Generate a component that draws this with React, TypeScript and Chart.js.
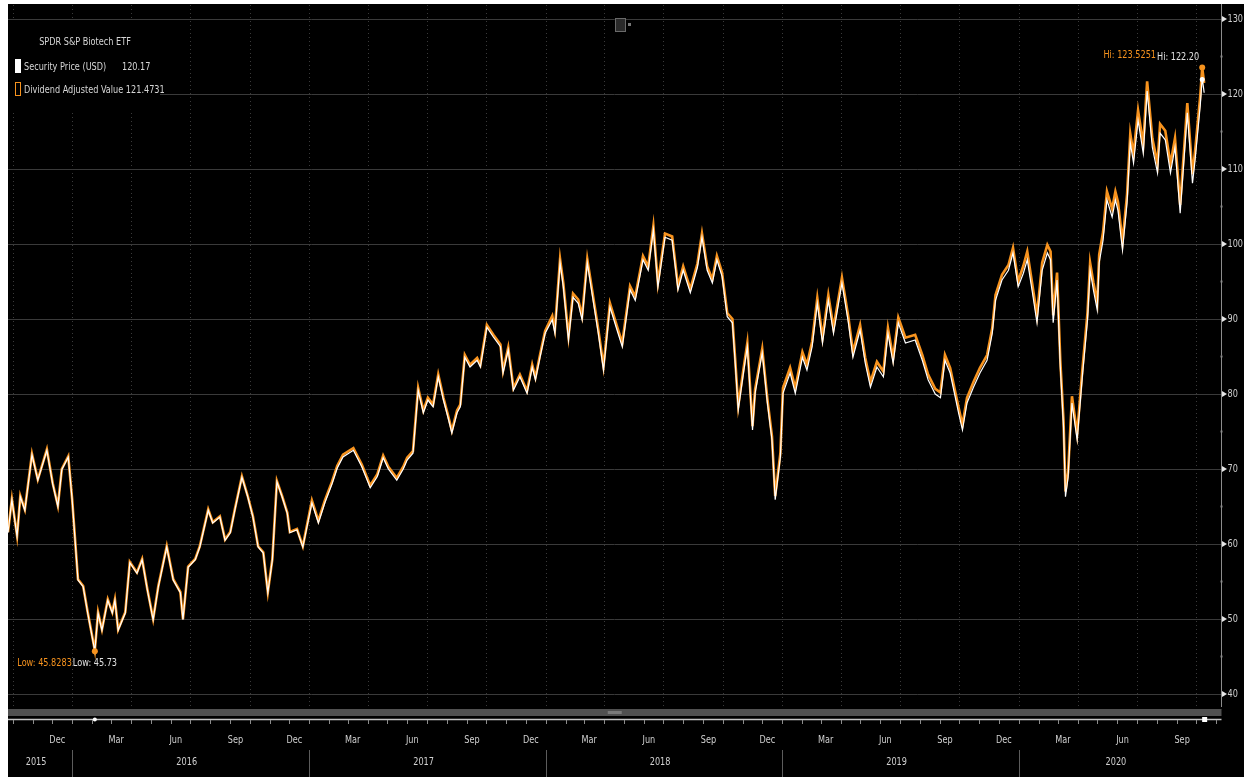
import React, { useEffect, useRef } from "react";
import { Chart, registerables } from "chart.js";

Chart.register(...registerables);

// calendar days since 2015-09-24
const BASE_UTC = Date.UTC(2015, 8, 24);
const X_MAX = 1872;

const dayIndex = [
  0, 6, 14, 19, 26, 37, 46, 60, 69, 77, 83, 93, 99, 108, 116, 123, 134, 139, 145, 154,
  161, 165, 170, 181, 188, 199, 207, 215, 224, 232, 245, 255, 266, 270, 278, 289, 296, 309, 316, 327,
  335, 343, 350, 361, 370, 378, 386, 394, 401, 408, 415, 423, 431, 435, 446, 455,
  469, 479, 489, 500, 508, 517, 533, 546, 559, 570, 579, 587, 600, 610, 616, 625, 633, 641, 648, 656,
  664, 672, 679, 685, 693, 698, 705, 713, 724, 729, 739, 749, 760, 764, 772, 780, 790, 801, 809, 814,
  821, 829,
  840, 844, 852, 857, 865, 872, 880, 886, 894, 903, 911, 919, 929, 940, 948, 960, 968, 980, 988, 996,
  1003, 1014, 1025, 1034, 1042, 1053, 1064, 1071, 1079, 1087, 1094, 1102, 1110, 1118, 1122, 1127, 1135, 1141, 1149, 1153,
  1164, 1172, 1179, 1184, 1192,
  1196, 1207, 1215, 1226, 1233, 1241, 1249, 1257, 1266, 1274, 1287, 1297, 1304, 1315, 1323, 1331, 1341, 1351, 1358, 1366,
  1374, 1385, 1400, 1411, 1420, 1431, 1439, 1446, 1454, 1467, 1473, 1480, 1490, 1500, 1511, 1519, 1524, 1534, 1544, 1551,
  1559,
  1567, 1573, 1581, 1588, 1596, 1604, 1609, 1613, 1619, 1624, 1629, 1632, 1636, 1642, 1650, 1658, 1666, 1670, 1675, 1681,
  1684, 1690, 1696, 1704, 1709, 1713, 1720, 1727, 1732, 1737, 1744, 1752, 1758, 1766, 1774, 1778, 1786, 1794, 1801, 1809,
  1820, 1828, 1832, 1840, 1843, 1846,
];

const securityPrice = [
  61.5, 65.9, 61.0, 66.3, 64.5, 71.9, 68.5, 72.5, 68.0, 65.0, 69.9, 71.6, 65.9, 55.2, 54.3, 50.8, 45.73, 50.8, 48.5, 52.5,
  50.8, 52.5, 48.5, 50.8, 57.5, 56.1, 57.9, 53.9, 49.9, 54.3, 59.6, 55.2, 53.5, 49.9, 56.9, 57.9, 59.6, 64.5, 62.8, 63.6,
  60.5, 61.5, 64.5, 68.9, 66.3, 63.6, 59.6, 58.8, 53.5, 57.9, 68.3, 66.3, 64.1, 61.5, 61.9, 59.6,
  65.5, 62.8, 65.5, 68.0, 70.1, 71.6, 72.5, 70.3, 67.5, 69.0, 71.5, 70.0, 68.5, 70.0, 71.2, 72.1, 80.5, 77.5, 79.2, 78.3,
  82.3, 79.2, 76.9, 74.8, 77.5, 78.3, 84.9, 83.6, 84.5, 83.6, 88.9, 87.6, 86.3, 82.8, 85.9, 80.5, 82.3, 80.1, 83.6, 81.9,
  84.9, 88.1,
  89.9, 88.1, 97.5, 94.3, 87.2, 92.9, 92.1, 89.9, 97.5, 92.5, 88.1, 83.2, 91.6, 88.5, 86.3, 93.9, 92.5, 97.9, 96.5, 101.9,
  94.3, 100.9, 100.5, 93.9, 96.5, 93.5, 96.9, 100.9, 96.5, 94.8, 97.9, 95.7, 90.3, 89.5, 84.5, 77.9, 82.8, 86.3, 75.2, 80.1,
  85.5, 78.8, 73.9, 65.9, 71.6,
  80.1, 82.8, 80.1, 84.9, 83.2, 86.3, 92.1, 86.8, 92.5, 88.1, 94.8, 89.5, 84.9, 88.5, 84.1, 80.9, 83.6, 82.3, 88.1, 84.1,
  89.5, 86.8, 87.2, 84.5, 81.9, 80.0, 79.5, 84.5, 82.8, 77.5, 75.2, 78.8, 80.9, 82.8, 84.5, 88.1, 92.5, 95.2, 96.5, 98.8,
  94.3,
  96.1, 97.9, 93.5, 89.5, 96.5, 98.8, 97.9, 89.5, 95.2, 83.6, 75.6, 66.3, 68.9, 78.8, 73.9, 82.3, 89.9, 96.5, 93.9, 91.2,
  97.5, 100.5, 105.9, 103.6, 105.9, 104.5, 99.2, 105.5, 113.5, 110.8, 116.5, 112.1, 120.4, 112.9, 109.5, 114.8, 113.9, 109.5, 112.9, 104.1,
  117.5, 108.1, 111.2, 118.5, 122.2, 120.17,
];

const dividendAdjusted = [
  61.6, 66.0, 61.1, 66.4, 64.6, 72.0, 68.6, 72.6, 68.1, 65.1, 70.0, 71.7, 66.0, 55.3, 54.4, 50.9, 45.8283, 50.9, 48.6, 52.6,
  50.9, 52.6, 48.6, 50.9, 57.6, 56.2, 58.0, 54.0, 50.0, 54.4, 59.7, 55.3, 53.6, 50.0, 57.0, 58.0, 59.7, 64.6, 62.9, 63.7,
  60.6, 61.6, 64.6, 69.0, 66.4, 63.7, 59.7, 58.9, 53.6, 58.0, 68.4, 66.4, 64.2, 61.6, 62.0, 59.7,
  65.8, 63.1, 65.8, 68.3, 70.4, 71.9, 72.8, 70.6, 67.8, 69.3, 71.8, 70.3, 68.8, 70.3, 71.5, 72.4, 80.8, 77.8, 79.5, 78.6,
  82.6, 79.5, 77.2, 75.1, 77.8, 78.6, 85.2, 83.9, 84.8, 83.9, 89.2, 87.9, 86.6, 83.1, 86.2, 80.8, 82.6, 80.4, 83.9, 82.2,
  85.2, 88.4,
  90.4, 88.6, 98.0, 94.8, 87.7, 93.4, 92.6, 90.4, 98.0, 93.0, 88.6, 83.7, 92.1, 89.0, 86.8, 94.4, 93.0, 98.4, 97.0, 102.4,
  94.8, 101.4, 101.0, 94.4, 97.0, 94.0, 97.4, 101.4, 97.0, 95.3, 98.4, 96.2, 90.8, 90.0, 85.0, 78.4, 83.3, 86.8, 75.7, 80.6,
  86.0, 79.3, 74.4, 66.4, 72.1,
  80.8, 83.5, 80.8, 85.6, 83.9, 87.0, 92.8, 87.5, 93.2, 88.8, 95.5, 90.2, 85.6, 89.2, 84.8, 81.6, 84.3, 83.0, 88.8, 84.8,
  90.2, 87.5, 87.9, 85.2, 82.6, 80.7, 80.2, 85.2, 83.5, 78.2, 75.9, 79.5, 81.6, 83.5, 85.2, 88.8, 93.2, 95.9, 97.2, 99.5,
  95.0,
  97.1, 99.0, 94.5, 90.5, 97.5, 99.9, 99.0, 90.5, 96.2, 84.5, 76.4, 67.0, 69.6, 79.7, 74.7, 83.2, 90.9, 97.5, 94.9, 92.2,
  98.6, 101.6, 107.0, 104.7, 107.0, 105.6, 100.3, 106.6, 114.7, 112.0, 117.8, 113.3, 121.7, 114.1, 110.7, 116.0, 115.1, 110.7, 114.1, 105.2,
  118.8, 109.3, 112.4, 119.8, 123.5251, 121.4731,
];

const yTickValues = [40, 50, 60, 70, 80, 90, 100, 110, 120, 130];
const quarterLabelMonths = [11, 2, 5, 8];
const quarterLabelNames = ["Dec", "Mar", "Jun", "Sep"];
const yearLabels = ["2015", "2016", "2017", "2018", "2019", "2020"];
const legendTitle = "SPDR S&P Biotech ETF";
const seriesNames = ["Security Price (USD)", "Dividend Adjusted Value"];

const FONT = "'DejaVu Sans', sans-serif";
const SX = 0.74; // horizontal squeeze to mimic a condensed terminal font
const ORANGE = "#f7931e";

const dayOf = (y: number, m: number, d: number) =>
  Math.round((Date.UTC(y, m, d) - BASE_UTC) / 86400000);

function txt(ctx: CanvasRenderingContext2D, s: string, x: number, y: number, align: CanvasTextAlign) {
  ctx.save();
  ctx.translate(x, y);
  ctx.scale(SX, 1);
  ctx.textAlign = align;
  ctx.textBaseline = "middle";
  ctx.fillText(s, 0, 0);
  ctx.restore();
}

const decorPlugin = {
  id: "decor",
  beforeDatasetsDraw(chart: any) {
    const { ctx, chartArea: a, scales } = chart;
    const x = scales.x;
    ctx.save();
    ctx.strokeStyle = "#3a3a3a";
    ctx.lineWidth = 1;
    ctx.setLineDash([1, 3]);
    for (let yr = 2015; yr <= 2020; yr++) {
      for (const m of [0, 3, 6, 9]) {
        const d = dayOf(yr, m, 1);
        if (d <= 0 || d >= X_MAX) continue;
        const px = Math.round(x.getPixelForValue(d)) + 0.5;
        ctx.beginPath();
        ctx.moveTo(px, a.top);
        ctx.lineTo(px, a.bottom);
        ctx.stroke();
      }
    }
    ctx.restore();
  },
  afterDraw(chart: any) {
    const { ctx, chartArea: a, scales } = chart;
    const x = scales.x;
    const y = scales.y;
    ctx.save();
    const ax = Math.round(a.right) + 0.5;

    // right axis line
    ctx.strokeStyle = "#8c8c8c";
    ctx.lineWidth = 1;
    ctx.beginPath();
    ctx.moveTo(ax, 0);
    ctx.lineTo(ax, a.bottom + 1);
    ctx.stroke();

    // minor dots
    ctx.fillStyle = "#8a8a8a";
    for (let i = 0; i < yTickValues.length - 1; i++) {
      const py = y.getPixelForValue(yTickValues[i] + 5);
      ctx.fillRect(ax - 1, py - 1, 2, 2);
    }
    // major ticks + labels
    ctx.font = `11px ${FONT}`;
    for (const v of yTickValues) {
      const py = y.getPixelForValue(v);
      ctx.fillStyle = "#e6e6e6";
      ctx.beginPath();
      ctx.moveTo(ax + 0.5, py - 3);
      ctx.lineTo(ax + 5.5, py);
      ctx.lineTo(ax + 0.5, py + 3);
      ctx.closePath();
      ctx.fill();
      ctx.fillStyle = "#cfcfcf";
      txt(ctx, String(v), ax + 6, py + 0.5, "left");
    }

    // bottom scrollbar band
    const left = 0;
    ctx.fillStyle = "#505050";
    ctx.fillRect(left, 705, ax - left, 7);
    ctx.fillStyle = "#7a7a7a";
    ctx.fillRect((ax + left) / 2 - 7, 707, 14, 3);
    // axis line
    ctx.strokeStyle = "#c4c4c4";
    ctx.lineWidth = 1.5;
    ctx.beginPath();
    ctx.moveTo(left, 715.5);
    ctx.lineTo(ax, 715.5);
    ctx.stroke();
    // monthly ticks
    ctx.strokeStyle = "#8c8c8c";
    ctx.lineWidth = 1;
    for (let yr = 2015; yr <= 2020; yr++) {
      for (let m = 0; m < 12; m++) {
        const d = dayOf(yr, m, 1);
        if (d <= 0 || d >= X_MAX) continue;
        const px = Math.round(x.getPixelForValue(d)) + 0.5;
        ctx.beginPath();
        ctx.moveTo(px, 716);
        ctx.lineTo(px, 720);
        ctx.stroke();
      }
    }
    // month labels
    ctx.fillStyle = "#d0d0d0";
    ctx.font = `11px ${FONT}`;
    for (let yr = 2015; yr <= 2020; yr++) {
      quarterLabelMonths.forEach((m, i) => {
        const d = dayOf(yr, m, 9);
        if (d <= 0 || d >= X_MAX) return;
        txt(ctx, quarterLabelNames[i], x.getPixelForValue(d), 736, "center");
      });
    }
    // year separators and labels
    ctx.strokeStyle = "#5c5c5c";
    yearLabels.forEach((lab, i) => {
      const yr = 2015 + i;
      const s = Math.max(0, dayOf(yr, 0, 1));
      const e = Math.min(X_MAX, dayOf(yr + 1, 0, 1));
      if (i > 0) {
        const px = Math.round(x.getPixelForValue(s)) + 0.5;
        ctx.beginPath();
        ctx.moveTo(px, 746);
        ctx.lineTo(px, 773);
        ctx.stroke();
      }
      ctx.fillStyle = "#d0d0d0";
      txt(ctx, lab, (x.getPixelForValue(s) + x.getPixelForValue(e)) / 2 - 4, 758, "center");
    });

    // hi / low annotations
    let lo = 0;
    let hi = 0;
    securityPrice.forEach((v, i) => {
      if (v < securityPrice[lo]) lo = i;
      if (v > securityPrice[hi]) hi = i;
    });
    ctx.font = `11px ${FONT}`;
    const lpx = x.getPixelForValue(dayIndex[lo]);
    const lpyW = y.getPixelForValue(securityPrice[lo]);
    const lpyO = y.getPixelForValue(dividendAdjusted[lo]);
    ctx.fillStyle = ORANGE;
    ctx.beginPath();
    ctx.arc(lpx, lpyO + 1, 3, 0, Math.PI * 2);
    ctx.fill();
    ctx.fillStyle = "#e0e0e0";
    txt(ctx, `Low: ${securityPrice[lo].toFixed(2)}`, lpx - 22, lpyW + 12, "left");
    ctx.fillStyle = ORANGE;
    txt(ctx, `Low: ${dividendAdjusted[lo].toFixed(4)}`, lpx - 23, lpyW + 12, "right");

    const hpx = x.getPixelForValue(dayIndex[hi]);
    const hpyW = y.getPixelForValue(securityPrice[hi]);
    const hpyO = y.getPixelForValue(dividendAdjusted[hi]);
    ctx.fillStyle = ORANGE;
    ctx.beginPath();
    ctx.arc(hpx, hpyO, 3, 0, Math.PI * 2);
    ctx.fill();
    ctx.fillStyle = "#ffffff";
    ctx.beginPath();
    ctx.arc(hpx, hpyW + 2, 2.5, 0, Math.PI * 2);
    ctx.fill();
    const wTxt = `Hi: ${securityPrice[hi].toFixed(2)}`;
    ctx.fillStyle = "#e0e0e0";
    txt(ctx, wTxt, hpx - 3, hpyO - 10, "right");
    const wW = ctx.measureText(wTxt).width * SX;
    ctx.fillStyle = ORANGE;
    txt(ctx, `Hi: ${dividendAdjusted[hi].toFixed(4)}`, hpx - 4 - wW, hpyO - 12, "right");

    // axis markers for low and last
    ctx.fillStyle = "#ffffff";
    ctx.beginPath();
    ctx.arc(lpx, 715.5, 2, 0, Math.PI * 2);
    ctx.fill();
    ctx.fillRect(x.getPixelForValue(dayIndex[dayIndex.length - 1]) - 2, 713, 5, 5);

    // legend box
    ctx.fillStyle = "#000000";
    ctx.fillRect(0, 16, 152, 93);
    ctx.font = `11px ${FONT}`;
    ctx.fillStyle = "#d6d6d6";
    txt(ctx, legendTitle, 77, 38, "center");
    ctx.fillStyle = "#ffffff";
    ctx.fillRect(7, 55, 6, 14);
    ctx.fillStyle = "#d6d6d6";
    txt(ctx, seriesNames[0], 16, 63, "left");
    txt(ctx, securityPrice[securityPrice.length - 1].toFixed(2), 114, 63, "left");
    ctx.strokeStyle = ORANGE;
    ctx.lineWidth = 1;
    ctx.strokeRect(7.5, 78.5, 5, 13);
    txt(
      ctx,
      `${seriesNames[1]} ${dividendAdjusted[dividendAdjusted.length - 1].toFixed(4)}`,
      16,
      86,
      "left"
    );

    // small top icon
    ctx.strokeStyle = "#6a6a6a";
    ctx.fillStyle = "#2a2a2a";
    ctx.fillRect(607, 14, 11, 14);
    ctx.strokeRect(607.5, 14.5, 10, 13);
    ctx.fillStyle = "#777";
    ctx.fillRect(620, 19, 3, 3);

    ctx.restore();
  },
};

export default function App() {
  const ref = useRef<HTMLCanvasElement | null>(null);
  useEffect(() => {
    if (!ref.current) return;
    const chart = new Chart(ref.current, {
      type: "line",
      data: {
        datasets: [
          {
            label: seriesNames[0],
            data: dayIndex.map((d, i) => ({ x: d, y: securityPrice[i] })),
            borderColor: "#ffffff",
            borderWidth: 1.2,
            pointRadius: 0,
            tension: 0,
          },
          {
            label: seriesNames[1],
            data: dayIndex.map((d, i) => ({ x: d, y: dividendAdjusted[i] })),
            borderColor: ORANGE,
            borderWidth: 2.6,
            pointRadius: 0,
            tension: 0,
          },
        ],
      },
      options: {
        responsive: false,
        animation: false,
        devicePixelRatio: 1,
        layout: { padding: { top: 1, bottom: 71, left: 0, right: 0 } },
        plugins: { legend: { display: false }, tooltip: { enabled: false } },
        scales: {
          x: { type: "linear", min: 0, max: X_MAX, display: false },
          y: {
            position: "right",
            min: 38.4,
            max: 131.87,
            afterBuildTicks: (s: any) => {
              s.ticks = yTickValues.map((v) => ({ value: v }));
            },
            afterFit: (s: any) => {
              s.width = 23;
            },
            grid: { color: "#3a3a3a", lineWidth: 1, drawTicks: false },
            border: { display: false },
            ticks: { display: false },
          },
        },
      },
      plugins: [decorPlugin],
    } as any);
    return () => chart.destroy();
  }, []);
  return (
    <div style={{ position: "fixed", left: 8, top: 4, width: 1236, height: 773, background: "#000" }}>
      <canvas ref={ref} width={1236} height={773} style={{ display: "block", background: "#000" }} />
    </div>
  );
}
